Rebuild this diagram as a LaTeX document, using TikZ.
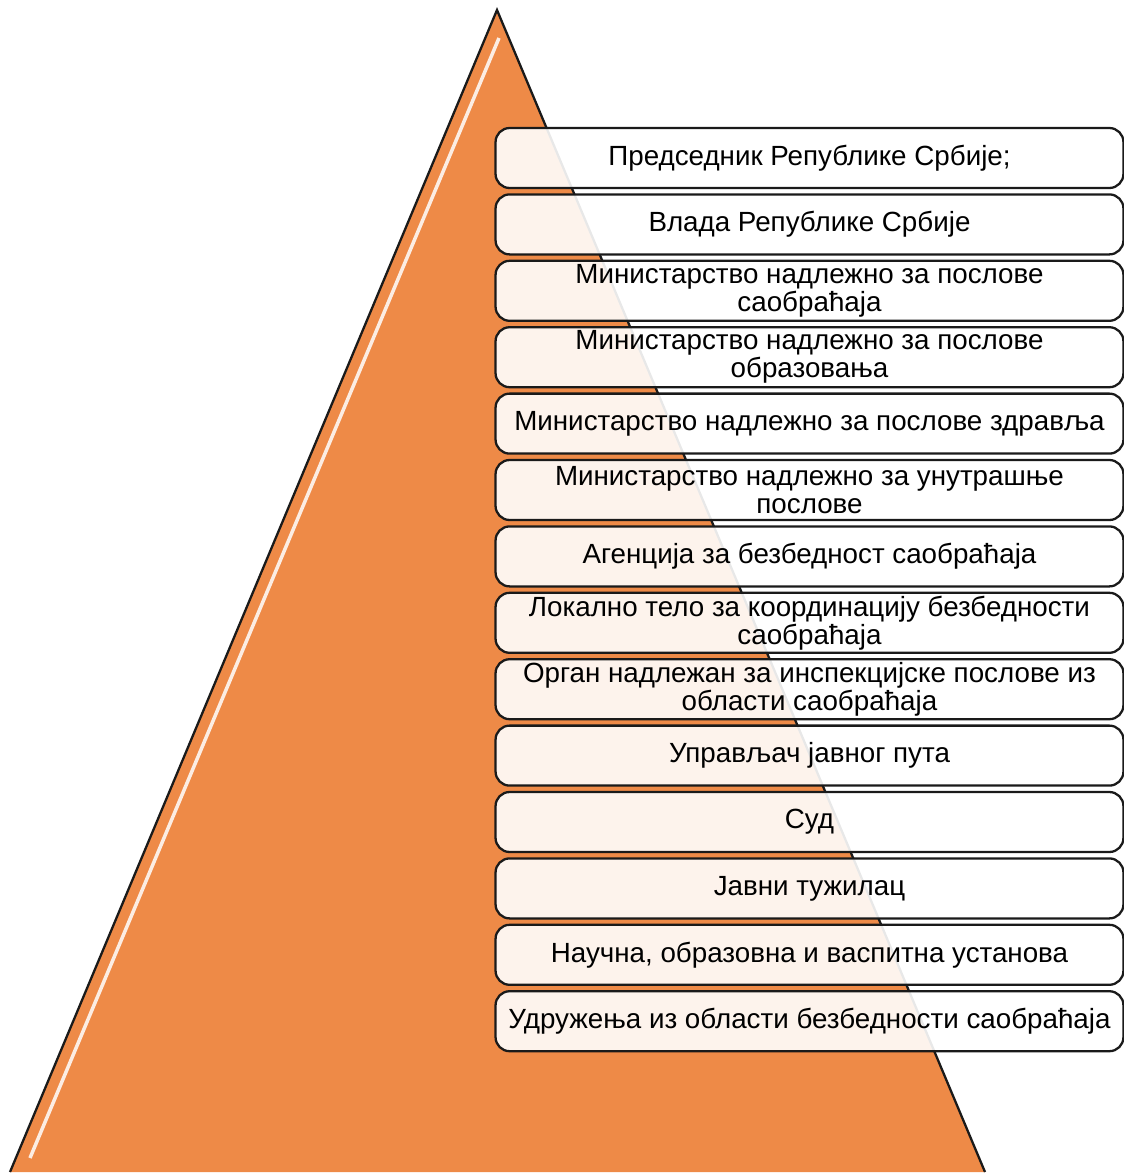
\documentclass[tikz,border=0pt]{standalone}
\usepackage{fontspec}
\setmainfont{Liberation Sans}
\usepackage{tikz}
\usetikzlibrary{positioning,calc}
\definecolor{PyrOrange}{HTML}{EE8A47}
\definecolor{BoxLine}{HTML}{1A1A1A}

\tikzset{
  organ/.style={draw=BoxLine, line width=1.3pt, fill=white, fill opacity=0.9,
    text opacity=1, rounded corners=8pt, minimum width=12.56cm, minimum height=1.2cm,
    align=center, font=\fontsize{15.8}{16}\selectfont, inner sep=0pt}
}

\begin{document}
\begin{tikzpicture}[x=0.02cm,y=-0.02cm]
  \useasboundingbox (0,0) rectangle (1124,1174);
  % pyramid
  \coordinate (top) at (497,10);
  \coordinate (bl) at (10,1172);
  \coordinate (br) at (985,1172);
  \fill[PyrOrange] (top) -- (br) -- (bl) -- cycle;
  \draw[white!85!PyrOrange, line width=2pt] ($(top)+(2,28)$) -- ($(bl)+(20,-14)$);
  \draw[BoxLine, line width=1.3pt] (bl) -- (top) -- (br);
  % organs
  \foreach \txt [count=\i] in {
      Председник Републике Србије;,
      Влада Републике Србије,
      {Министарство надлежно за послове\\саобраћаја},
      {Министарство надлежно за послове\\образовања},
      Министарство надлежно за послове здравља,
      {Министарство надлежно за унутрашње\\послове},
      Агенција за безбедност саобраћаја,
      {Локално тело за координацију безбедности\\саобраћаја},
      {Орган надлежан за инспекцијске послове из\\области саобраћаја},
      Управљач јавног пута,
      Суд,
      Јавни тужилац,
      {Научна, образовна и васпитна установа},
      Удружења из области безбедности саобраћаја} {
    \node[organ] (org\i) at (809.5,{158+66.4*(\i-1)}) {\txt};
  }
\end{tikzpicture}
\end{document}
